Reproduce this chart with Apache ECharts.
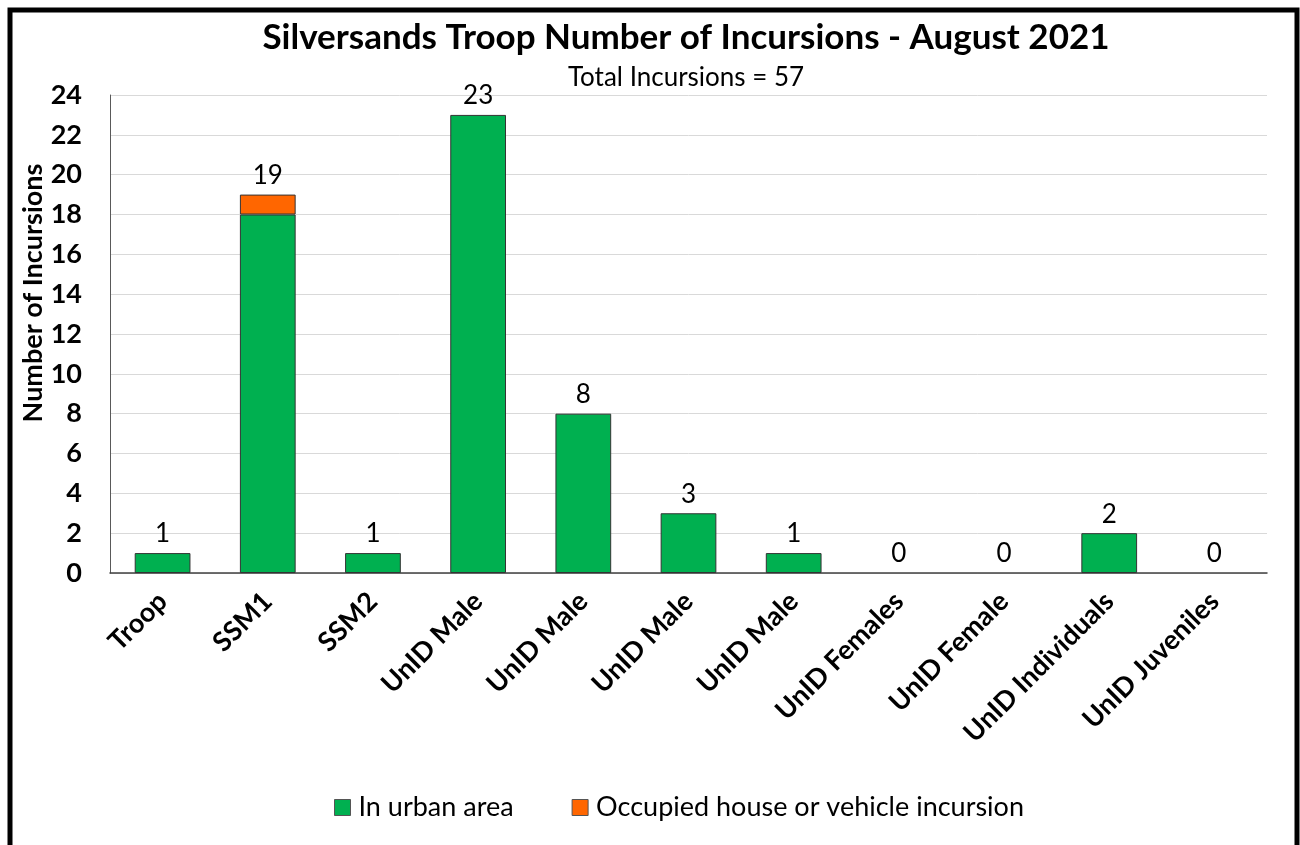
<!DOCTYPE html>
<html>
<head>
<meta charset="utf-8">
<script src="https://cdn.jsdelivr.net/npm/echarts@6/dist/echarts.min.js"></script>
<style>
  html, body { margin: 0; padding: 0; background: #fff; }
  #main { width: 1300px; height: 845px; }
</style>
</head>
<body>
<div id="main"></div>
<script>
var categories = ['Troop', 'SSM1', 'SSM2', 'UnID Male', 'UnID Male', 'UnID Male', 'UnID Male',
	'UnID Females', 'UnID Female', 'UnID Individuals', 'UnID Juveniles'];
var urbanArea = [1, 18, 1, 23, 8, 3, 1, 0, 0, 2, 0];
var houseVehicle = [0, 1, 0, 0, 0, 0, 0, 0, 0, 0, 0];
var yTicks = [0, 24, 2]; // min, max, interval

var fontName = 'Lato, "Open Sans", sans-serif';

// totals shown on top of each stack
var totals = urbanArea.map(function (v, i) { return v + houseVehicle[i]; });

// no border on empty bars, otherwise a flat line shows on the axis
function toItems(arr) {
	return arr.map(function (v) {
		return { value: v, itemStyle: { borderWidth: v > 0 ? 1 : 0 } };
	});
}

var chart = echarts.init(document.getElementById('main'));
chart.setOption({
	backgroundColor: '#fff',
	animation: false,
	textStyle: { fontFamily: fontName },
	title: {
		text: 'Silversands Troop Number of Incursions - August 2021',
		subtext: 'Total Incursions = 57',
		left: 686,
		textAlign: 'center',
		top: 20,
		padding: 0,
		itemGap: 10,
		textStyle: { fontSize: 35, fontWeight: 'bold', color: '#000', fontFamily: fontName },
		subtextStyle: { fontSize: 26, color: '#000', fontFamily: fontName }
	},
	legend: {
		bottom: 19,
		left: 329,
		itemWidth: 16,
		itemHeight: 16,
		itemGap: 58,
		icon: 'rect',
		itemStyle: { borderColor: '#555', borderWidth: 1 },
		textStyle: { fontSize: 27, color: '#000', fontFamily: fontName, padding: [0, 0, 0, 3] },
		data: ['In urban area', 'Occupied house or vehicle incursion']
	},
	grid: { left: 110, right: 33, top: 95, bottom: 272, containLabel: false },
	xAxis: {
		type: 'category',
		data: categories,
		axisLine: { lineStyle: { color: '#404040', width: 1.5 } },
		axisTick: { show: false },
		axisLabel: {
			rotate: 45,
			interval: 0,
			margin: 24,
			fontSize: 27,
			fontWeight: 'bold',
			color: '#000',
			fontFamily: fontName
		}
	},
	yAxis: {
		type: 'value',
		min: yTicks[0],
		max: yTicks[1],
		interval: yTicks[2],
		axisLine: { show: true, lineStyle: { color: '#595959', width: 1 } },
		axisTick: { show: false },
		splitLine: { lineStyle: { color: '#d9d9d9', width: 1 } },
		axisLabel: { fontSize: 27, fontWeight: 'bold', color: '#000', margin: 28, fontFamily: fontName }
	},
	graphic: [{
		type: 'text',
		x: 33,
		y: 293,
		rotation: Math.PI / 2,
		style: {
			text: 'Number of Incursions',
			fontSize: 27,
			fontWeight: 'bold',
			fill: '#000',
			fontFamily: fontName,
			align: 'center',
			verticalAlign: 'middle'
		}
	}, {
		type: 'rect',
		shape: { x: 10, y: 10, width: 1287, height: 900 },
		style: { fill: 'none', stroke: '#000', lineWidth: 5 },
		silent: true
	}],
	series: [{
		name: 'In urban area',
		type: 'bar',
		stack: 'total',
		barWidth: '53%',
		itemStyle: { color: '#00b050', borderColor: '#333', borderWidth: 1 },
		data: toItems(urbanArea)
	}, {
		name: 'Occupied house or vehicle incursion',
		type: 'bar',
		stack: 'total',
		barWidth: '53%',
		itemStyle: { color: '#ff6600', borderColor: '#333', borderWidth: 1 },
		label: {
			show: true,
			position: 'top',
			distance: 6,
			fontSize: 26,
			color: '#000',
			fontFamily: fontName,
			formatter: function (p) { return totals[p.dataIndex]; }
		},
		data: toItems(houseVehicle)
	}]
});
</script>
</body>
</html>
